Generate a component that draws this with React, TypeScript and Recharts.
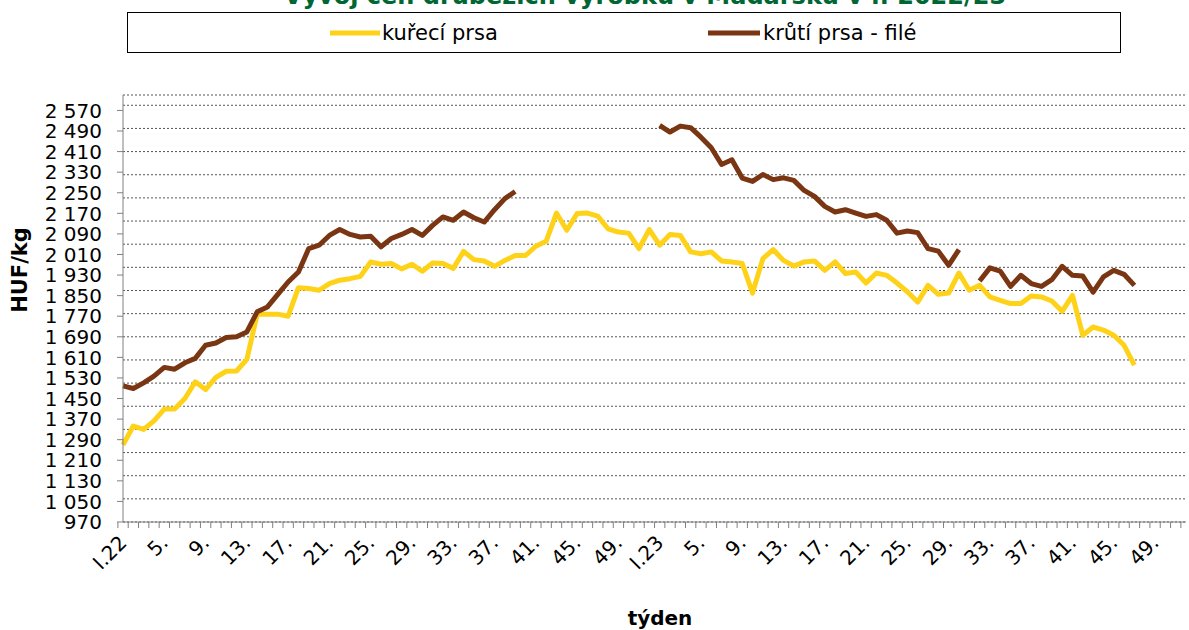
import React from 'react';
import { LineChart, Line, XAxis, YAxis, CartesianGrid } from 'recharts';

// ---- data ----
const weekLabels2022: string[] = Array.from({ length: 52 }, (_, i) => (i === 0 ? 'I.22' : `${i + 1}.`));
const weekLabels2023: string[] = Array.from({ length: 52 }, (_, i) => (i === 0 ? 'I.23' : `${i + 1}.`));
const categories: string[] = [...weekLabels2022, ...weekLabels2023];

// kuřecí prsa (HUF/kg), 2022 w1 .. 2023 w47
const chickenBreast: (number | null)[] = [
  1270, 1343, 1330, 1363, 1409, 1409, 1450, 1515, 1485, 1532,
  1556, 1557, 1602, 1778, 1778, 1778, 1770, 1881, 1878, 1871,
  1897, 1910, 1916, 1925, 1981, 1972, 1975, 1954, 1972, 1945,
  1977, 1975, 1956, 2022, 1990, 1985, 1964, 1987, 2006, 2006,
  2042, 2061, 2171, 2104, 2169, 2171, 2159, 2110, 2097, 2093,
  2033, 2107, 2046, 2088, 2084, 2020, 2013, 2020, 1985, 1981,
  1975, 1860, 1994, 2029, 1987, 1965, 1981, 1985, 1948, 1981,
  1936, 1942, 1899, 1938, 1929, 1899, 1865, 1825, 1890, 1855,
  1860, 1938, 1871, 1890, 1845, 1832, 1819, 1819, 1849, 1845,
  1829, 1789, 1851, 1696, 1728, 1716, 1696, 1657, 1580,
];

// krůtí prsa - filé (HUF/kg)
const turkeyBreast: (number | null)[] = [
  1499, 1489, 1511, 1537, 1571, 1564, 1589, 1606, 1657, 1666,
  1687, 1690, 1709, 1787, 1806, 1855, 1903, 1942, 2033, 2046,
  2084, 2107, 2088, 2078, 2081, 2040, 2072, 2088, 2107, 2084,
  2123, 2156, 2143, 2175, 2153, 2136, 2184, 2227, 2255, null,
  null, null, null, null, null, null, null, null, null, null,
  null, null, 2512, 2486, 2509, 2503, 2466, 2425, 2360, 2378,
  2307, 2294, 2321, 2301, 2308, 2298, 2259, 2236, 2197, 2175,
  2184, 2171, 2158, 2165, 2143, 2093, 2101, 2095, 2033, 2023,
  1968, 2029, null, 1907, 1958, 1945, 1886, 1929, 1897, 1886,
  1912, 1964, 1929, 1926, 1864, 1923, 1948, 1933, 1890,
];

const yTicks: number[] = Array.from({ length: 21 }, (_, i) => 970 + i * 80);
const gridTicks: number[] = Array.from({ length: 37 }, (_, i) => 970 + i * 45);
const yDomain: [number, number] = [970, 2630];

const seriesNames = { chicken: 'kuřecí prsa', turkey: 'krůtí prsa - filé' };
const titleText = 'Vývoj cen drůbežích výrobků v Maďarsku v r. 2022/23';

const data = categories.map((c, i) => ({
  key: `${i}`,
  label: c,
  chicken: i < chickenBreast.length ? chickenBreast[i] : null,
  turkey: i < turkeyBreast.length ? turkeyBreast[i] : null,
}));

// ---- layout ----
const W = 1189;
const H = 630;
const Y_AXIS_W = 123;
const RIGHT = 3;
const TOP = 95;
const X_AXIS_H = 108;
const BAND = (W - Y_AXIS_W - RIGHT) / categories.length;
const FONT = 'Verdana, "DejaVu Sans", sans-serif';
const YELLOW = '#FFD21A';
const BROWN = '#7A3512';
const AXIS = '#808080';

const fmt = (v: number) => {
  const s = String(v);
  return s.length > 3 ? `${s.slice(0, s.length - 3)} ${s.slice(-3)}` : s;
};

const XTick = (props: any) => {
  const { x, y, index } = props;
  const label = index % 4 === 0 ? categories[index] : '';
  return (
    <g>
      <line x1={x - BAND / 2} x2={x - BAND / 2} y1={y - 6} y2={y} stroke={AXIS} strokeWidth={1} />
      {index === categories.length - 1 && (
        <line x1={x + BAND / 2} x2={x + BAND / 2} y1={y - 6} y2={y} stroke={AXIS} strokeWidth={1} />
      )}
      {label && (
        <text
          transform={`translate(${x + 5},${y + 16}) rotate(-45)`}
          textAnchor="end"
          fontFamily={FONT}
          fontSize={20}
          fill="#000"
        >
          {label}
        </text>
      )}
    </g>
  );
};

const YTick = (props: any) => {
  const { y, payload } = props;
  return (
    <text
      x={Y_AXIS_W - 21}
      y={y}
      dy="0.36em"
      textAnchor="end"
      fontFamily={FONT}
      fontSize={20}
      fill="#000"
    >
      {fmt(payload.value)}
    </text>
  );
};

export default function App() {
  return (
    <div style={{ position: 'absolute', left: 0, top: 0, width: W, height: H, background: '#fff' }}>
      <LineChart
        width={W}
        height={H}
        data={data}
        margin={{ top: TOP, right: RIGHT, left: 0, bottom: 0 }}
      >
        <YAxis
          yAxisId="grid"
          orientation="right"
          width={0}
          domain={yDomain}
          ticks={gridTicks}
          hide
          type="number"
          allowDataOverflow
        />
        <CartesianGrid
          yAxisId="grid"
          vertical={false}
          stroke="#555"
          strokeDasharray="2 2"
        />
        <XAxis
          dataKey="key"
          interval={0}
          tickLine={false}
          tickSize={6}
          tickMargin={0}
          height={X_AXIS_H}
          stroke={AXIS}
          tick={<XTick />}
        />
        <YAxis
          yAxisId="main"
          type="number"
          domain={yDomain}
          ticks={yTicks}
          interval={0}
          width={Y_AXIS_W}
          tickSize={6}
          tickMargin={15}
          stroke={AXIS}
          tick={<YTick />}
          allowDataOverflow
        />
        <Line
          yAxisId="main"
          dataKey="chicken"
          name={seriesNames.chicken}
          stroke={YELLOW}
          strokeWidth={5}
          dot={false}
          isAnimationActive={false}
          strokeLinejoin="round"
        />
        <Line
          yAxisId="main"
          dataKey="turkey"
          name={seriesNames.turkey}
          stroke={BROWN}
          strokeWidth={5}
          dot={false}
          isAnimationActive={false}
          strokeLinejoin="round"
        />
      </LineChart>
      <svg
        width={W}
        height={H}
        style={{ position: 'absolute', left: 0, top: 0, pointerEvents: 'none' }}
      >
        <text x={645} y={4} textAnchor="middle" fontFamily={FONT} fontWeight="bold" fontSize={24} fill="#006633">
          {titleText}
        </text>
        <rect x={127.5} y={12.5} width={993} height={40} fill="none" stroke="#000" strokeWidth={1} />
        <line x1={330} x2={380} y1={33} y2={33} stroke={YELLOW} strokeWidth={5} />
        <text x={382} y={40} fontFamily={FONT} fontSize={21} fill="#000">{seriesNames.chicken}</text>
        <line x1={708} x2={760} y1={33} y2={33} stroke={BROWN} strokeWidth={5} />
        <text x={763} y={40} fontFamily={FONT} fontSize={21} fill="#000">{seriesNames.turkey}</text>
        <text
          transform="translate(27,270) rotate(-90)"
          textAnchor="middle"
          fontFamily={FONT}
          fontWeight="bold"
          fontSize={21}
          fill="#000"
        >
          HUF/kg
        </text>
        <text x={660} y={625} textAnchor="middle" fontFamily={FONT} fontWeight="bold" fontSize={20} fill="#000">
          týden
        </text>
      </svg>
    </div>
  );
}
